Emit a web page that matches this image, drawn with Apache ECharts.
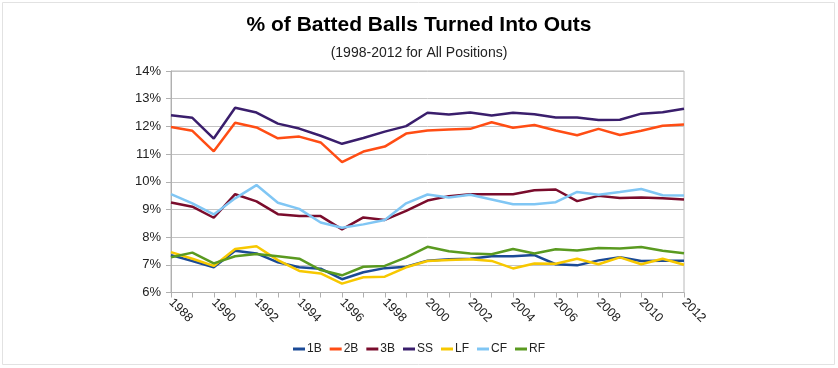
<!DOCTYPE html>
<html>
<head>
<meta charset="utf-8">
<script src="https://cdn.jsdelivr.net/npm/echarts@6/dist/echarts.min.js"></script>
<style>
html,body{margin:0;padding:0;background:#fff;}
#c{width:838px;height:368px;}
</style>
</head>
<body>
<div id="c"></div>
<script>
var years = ['1988','1989','1990','1991','1992','1993','1994','1995','1996','1997','1998','1999','2000','2001','2002','2003','2004','2005','2006','2007','2008','2009','2010','2011','2012'];
var s1B = [7.35,7.14,6.91,7.51,7.41,7.09,6.91,6.86,6.48,6.73,6.88,6.93,7.15,7.20,7.22,7.31,7.31,7.35,7.02,6.98,7.16,7.27,7.14,7.15,7.15];
var s2B = [11.98,11.84,11.10,12.13,11.96,11.57,11.63,11.42,10.71,11.09,11.27,11.74,11.85,11.89,11.91,12.15,11.95,12.05,11.85,11.68,11.91,11.69,11.84,12.02,12.07];
var s3B = [9.25,9.10,8.70,9.55,9.29,8.83,8.76,8.76,8.28,8.71,8.62,8.95,9.32,9.48,9.55,9.55,9.55,9.69,9.72,9.30,9.49,9.41,9.43,9.40,9.36];
var sSS = [12.40,12.31,11.56,12.67,12.50,12.10,11.92,11.66,11.37,11.58,11.81,12.01,12.49,12.43,12.50,12.39,12.49,12.44,12.32,12.32,12.23,12.24,12.46,12.51,12.64];
var sLF = [7.46,7.22,6.96,7.57,7.67,7.17,6.78,6.69,6.32,6.55,6.57,6.91,7.14,7.17,7.20,7.14,6.87,7.05,7.04,7.22,7.02,7.27,7.02,7.22,7.00];
var sCF = [9.55,9.22,8.82,9.40,9.88,9.24,9.02,8.53,8.34,8.46,8.62,9.22,9.54,9.43,9.53,9.36,9.19,9.19,9.26,9.63,9.53,9.63,9.74,9.51,9.50];
var sRF = [7.27,7.44,7.05,7.31,7.39,7.31,7.22,6.81,6.62,6.93,6.96,7.27,7.65,7.49,7.41,7.38,7.57,7.41,7.56,7.52,7.61,7.59,7.64,7.51,7.42];
var seriesNames = ['1B','2B','3B','SS','LF','CF','RF'];
var seriesData = [s1B,s2B,s3B,sSS,sLF,sCF,sRF];
var colors = ['#1b4a96','#ff4d14','#7a0c2c','#3a1e6c','#f7c800','#80c6f4','#5a9a20'];
var yTicks = [6,7,8,9,10,11,12,13,14];

var chart = echarts.init(document.getElementById('c'), null, {renderer:'canvas'});
var font = '"Liberation Sans", Arial, sans-serif';
chart.setOption({
  animation:false,
  backgroundColor:'#fff',
  color:colors,
  graphic:[{type:'rect', shape:{x:2.5,y:2.5,width:832,height:362}, style:{fill:'none', stroke:'#e2e2e2', lineWidth:1}, silent:true}],
  title:[
    {text:'% of Batted Balls Turned Into Outs', left:'center', top:10, textStyle:{fontFamily:font, fontSize:21, fontWeight:'bold', color:'#000'}},
    {text:'(1998-2012 for All Positions)', left:'center', top:41, textStyle:{fontFamily:font, fontSize:14, fontWeight:'normal', color:'#222'}}
  ],
  legend:{
    bottom:8, left:'center', itemWidth:12, itemHeight:3, itemGap:8, icon:'rect',
    textStyle:{fontFamily:font, fontSize:12, color:'#222', padding:[0,0,0,-3]},
    data:seriesNames
  },
  grid:{left:171, right:154, top:71, bottom:75.5, show:true, borderColor:'#b8b8b8', borderWidth:1},
  xAxis:{
    type:'category', data:years, boundaryGap:false,
    axisLine:{lineStyle:{color:'#b0b0b0'}},
    axisTick:{show:true, interval:0, length:5, lineStyle:{color:'#b0b0b0'}},
    axisLabel:{interval:1, rotate:-45, fontFamily:font, fontSize:12.5, color:'#222', margin:8},
    splitLine:{show:false}
  },
  yAxis:{
    type:'value', min:6, max:14, interval:1,
    axisLine:{show:true, lineStyle:{color:'#b0b0b0'}},
    axisTick:{show:true, length:5, lineStyle:{color:'#b0b0b0'}},
    axisLabel:{fontFamily:font, fontSize:13, color:'#222', margin:10, formatter:function(v){return v+'%';}},
    splitLine:{lineStyle:{color:'#c4c4c4', width:1}}
  },
  series: seriesNames.map(function(n,i){
    return {name:n, type:'line', data:seriesData[i], showSymbol:false, symbol:'none', lineStyle:{width:2.5, color:colors[i]}, z: 2};
  })
});
</script>
</body>
</html>
